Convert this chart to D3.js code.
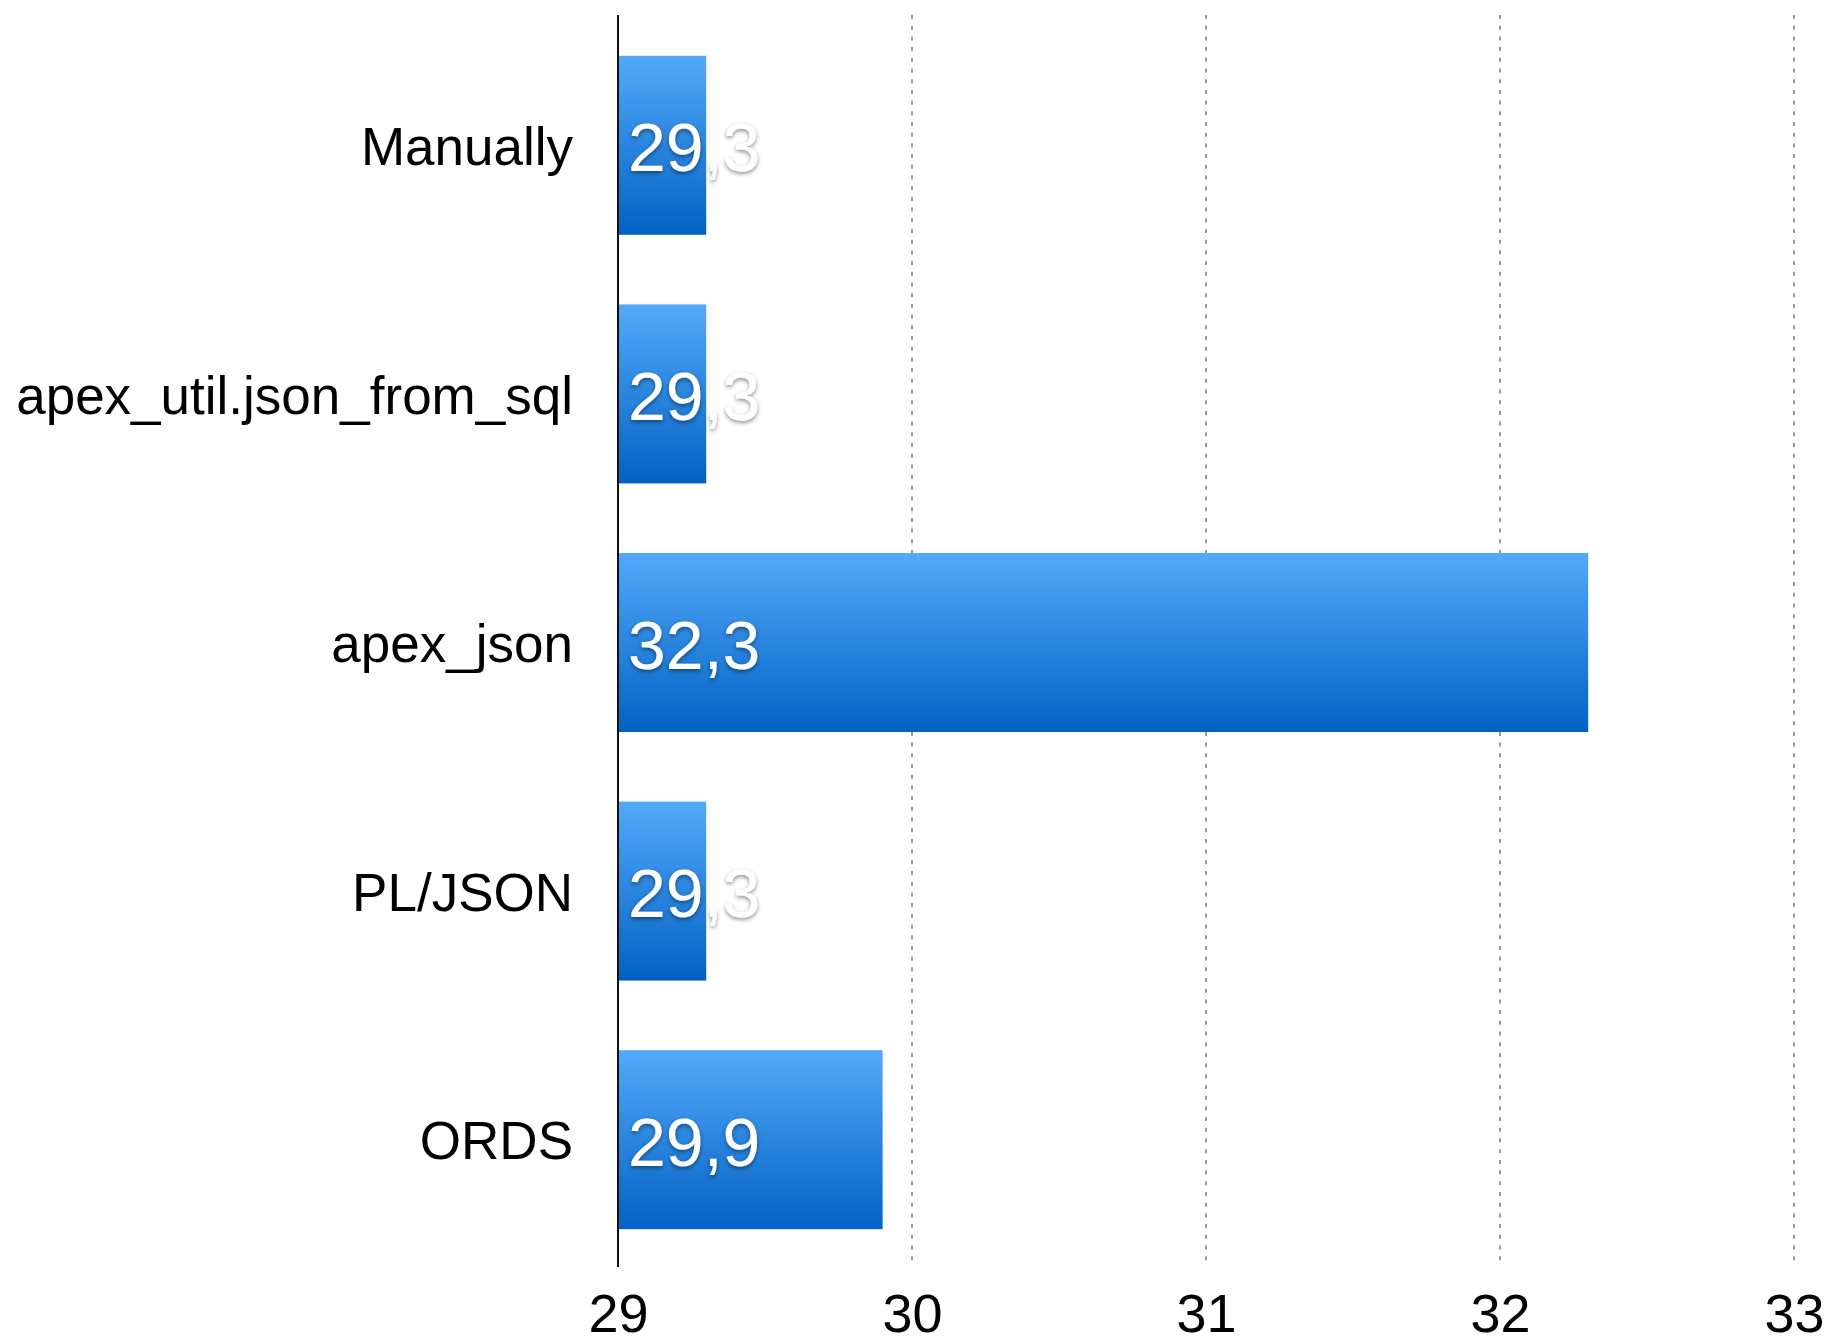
<!DOCTYPE html>
<html>
<head>
<meta charset="utf-8">
<script src="https://cdn.jsdelivr.net/npm/d3@7"></script>
<style>
  body { margin: 0; background: #fff; }
  svg text { font-family: "Liberation Sans", Arial, sans-serif; }
</style>
</head>
<body>
<svg id="chart"></svg>
<script>
// chart data
var categories = ["Manually", "apex_util.json_from_sql", "apex_json", "PL/JSON", "ORDS"];
var values = [29.3, 29.3, 32.3, 29.3, 29.9];
var valueLabels = ["29,3", "29,3", "32,3", "29,3", "29,9"];
var xTicks = [29, 30, 31, 32, 33];

var width = 1829, height = 1344;
var plotTop = 15, plotBottom = 1267;
var axisX = 618, axisRight = 1794;

var svg = d3.select("#chart").attr("width", width).attr("height", height);

var x = d3.scaleLinear().domain([29, 33]).range([axisX, axisRight]);
var y = d3.scaleBand().domain(categories).range([21, 1264])
    .paddingInner(0.28).paddingOuter(0.14);

var defs = svg.append("defs");
var grad = defs.append("linearGradient")
    .attr("id", "barGrad").attr("x1", 0).attr("y1", 0).attr("x2", 0).attr("y2", 1);
grad.append("stop").attr("offset", "0%").attr("stop-color", "#53a9fa");
grad.append("stop").attr("offset", "100%").attr("stop-color", "#0262c3");

var shadow = defs.append("filter").attr("id", "txtShadow")
    .attr("x", "-20%").attr("y", "-20%").attr("width", "140%").attr("height", "150%");
shadow.append("feDropShadow").attr("dx", 0).attr("dy", 2).attr("stdDeviation", 2)
    .attr("flood-color", "#000").attr("flood-opacity", 0.45);

// dashed gridlines
svg.append("g").selectAll("line")
    .data(xTicks.slice(1))
    .enter().append("line")
    .attr("x1", function(d) { return x(d); })
    .attr("x2", function(d) { return x(d); })
    .attr("y1", plotTop)
    .attr("y2", plotBottom - 2)
    .attr("stroke", "#9a9a9a")
    .attr("stroke-width", 2)
    .attr("stroke-dasharray", "4,6.7");

// bars
var bars = svg.append("g").selectAll("g")
    .data(values)
    .enter().append("g");

bars.append("rect")
    .attr("x", x(29))
    .attr("y", function(d, i) { return y(categories[i]); })
    .attr("width", function(d) { return x(d) - x(29); })
    .attr("height", y.bandwidth())
    .attr("fill", "url(#barGrad)");

bars.append("text")
    .attr("x", x(29) + 10)
    .attr("y", function(d, i) { return y(categories[i]) + y.bandwidth() / 2 + 26; })
    .attr("fill", "#fff")
    .attr("font-size", "68px")
    .attr("filter", "url(#txtShadow)")
    .text(function(d, i) { return valueLabels[i]; });

// bottom axis labels
var xAxis = svg.append("g")
    .attr("transform", "translate(0," + plotBottom + ")")
    .call(d3.axisBottom(x).tickValues(xTicks).tickSize(0).tickFormat(d3.format("d")));
xAxis.select(".domain").remove();
xAxis.selectAll("text")
    .attr("y", 65).attr("dy", null)
    .attr("fill", "#000")
    .attr("font-size", "54px");

// category labels
var yAxis = svg.append("g")
    .attr("transform", "translate(" + axisX + ",0)")
    .call(d3.axisLeft(y).tickSize(0).tickPadding(45));
yAxis.select(".domain").remove();
yAxis.selectAll("text")
    .attr("dy", "0.37em")
    .attr("fill", "#000")
    .attr("font-size", "53px");

// vertical axis line
svg.append("line")
    .attr("x1", axisX).attr("x2", axisX)
    .attr("y1", plotTop).attr("y2", plotBottom)
    .attr("stroke", "#111")
    .attr("stroke-width", 2);
</script>
</body>
</html>
